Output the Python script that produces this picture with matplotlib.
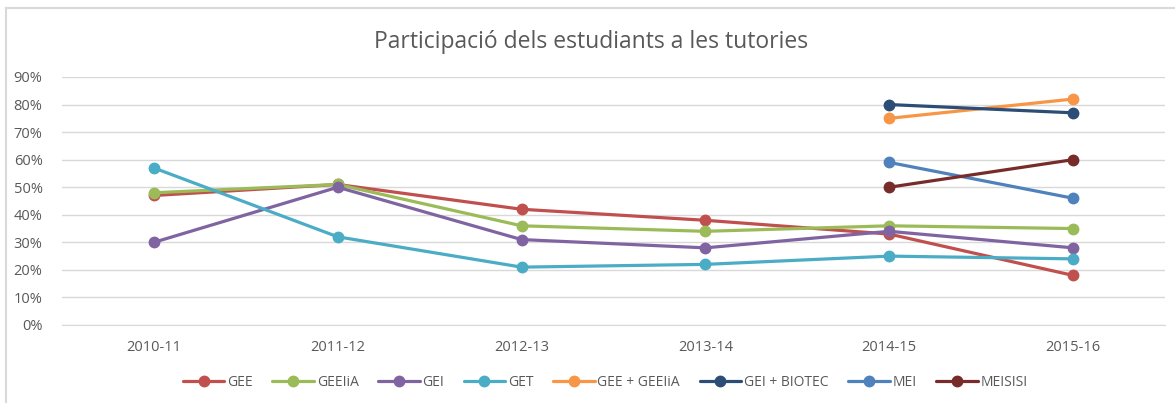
import numpy as np
import matplotlib.pyplot as plt
from matplotlib.lines import Line2D

# curs acadèmic
cursos = ['2010-11', '2011-12', '2012-13', '2013-14', '2014-15', '2015-16']

# participació (%) per titulació
gee = [47, 51, 42, 38, 33, 18]
geeiia = [48, 51, 36, 34, 36, 35]
gei = [30, 50, 31, 28, 34, 28]
get = [57, 32, 21, 22, 25, 24]
gee_geeiia = [np.nan, np.nan, np.nan, np.nan, 75, 82]
gei_biotec = [np.nan, np.nan, np.nan, np.nan, 80, 77]
mei = [np.nan, np.nan, np.nan, np.nan, 59, 46]
meisisi = [np.nan, np.nan, np.nan, np.nan, 50, 60]

series = [
    ('GEE', gee, '#C0504D'),
    ('GEEIiA', geeiia, '#9BBB59'),
    ('GEI', gei, '#8064A2'),
    ('GET', get, '#4BACC6'),
    ('GEE + GEEIiA', gee_geeiia, '#F79646'),
    ('GEI + BIOTEC', gei_biotec, '#2C4D75'),
    ('MEI', mei, '#4F81BD'),
    ('MEISISI', meisisi, '#772C2A'),
]

plt.rcParams['font.family'] = ['Open Sans', 'DejaVu Sans']

fig = plt.figure(figsize=(11.75, 4.03), dpi=100)
ax = fig.add_axes([62 / 1175, 1 - 325 / 403, (1165 - 62) / 1175, (325 - 77) / 403])

x = np.arange(len(cursos))
for name, vals, col in series:
    ax.plot(x, np.array(vals, dtype=float) / 100, color=col, lw=2.3,
            marker='o', ms=7.5, label=name, solid_capstyle='round')

ax.set_xlim(-0.5, len(cursos) - 0.5)
ax.set_ylim(0, 0.9)
ax.set_yticks(np.arange(0, 0.91, 0.1))
ax.set_yticklabels(['{:.0f}%'.format(v * 100) for v in np.arange(0, 0.91, 0.1)])
ax.set_xticks(x)
ax.set_xticklabels(cursos)
ax.grid(axis='y', color='#D9D9D9', lw=1)
ax.set_axisbelow(True)
for s in ax.spines.values():
    s.set_visible(False)
ax.spines['bottom'].set_visible(True)
ax.spines['bottom'].set_color('#D9D9D9')
ax.tick_params(length=0, labelsize=10.5, colors='#595959')
ax.tick_params(axis='y', pad=14)
ax.tick_params(axis='x', pad=11)

fig.text(0.503, 1 - 42 / 403, 'Participació dels estudiants a les tutories',
         ha='center', va='center', fontsize=16.5, color='#595959')

leg = fig.legend(loc='center', bbox_to_anchor=(0.515, 1 - 382 / 403), ncol=8,
                 frameon=False, fontsize=10, handlelength=3.0, columnspacing=1.4,
                 handletextpad=0.2)
for t in leg.get_texts():
    t.set_color('#595959')

# marc del gràfic (vores esquerra i superior)
fig.add_artist(Line2D([6 / 1175, 6 / 1175], [0, 1 - 8 / 403], color='#D9D9D9', lw=1.5))
fig.add_artist(Line2D([6 / 1175, 1], [1 - 8 / 403, 1 - 8 / 403], color='#D9D9D9', lw=1.5))

fig.savefig('out.png', dpi=100)
